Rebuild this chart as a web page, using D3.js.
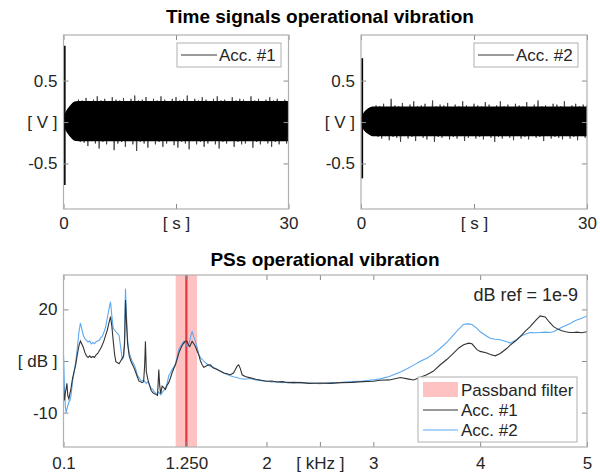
<!DOCTYPE html>
<html><head><meta charset="utf-8">
<script src="https://cdn.jsdelivr.net/npm/d3@7"></script>
<style>body{margin:0;background:#fff}svg{display:block}text{font-family:"Liberation Sans",Arial,Helvetica,sans-serif}</style>
</head><body><svg id="c" width="600" height="476"></svg>
<script>
// ---------- DATA ----------
const timeTicks = [0, 15, 30];
const timeTickLabels = ["0", "[ s ]", "30"];
const voltTicks = [-0.5, 0, 0.5];
const voltTickLabels = ["-0.5", "[ V ]", "0.5"];
// time-signal envelopes (peak tips) sampled every 0.5 s (0..30 s)
const envTime = d3.range(0, 30.01, 0.5);
const acc1Upper = [0.04,0.14,0.20,0.24,0.27,0.26,0.29,0.25,0.27,0.31,0.26,0.28,0.25,0.30,0.27,0.26,0.29,0.25,0.28,0.32,0.26,0.27,0.30,0.25,0.28,0.26,0.31,0.27,0.25,0.28,0.30,0.26,0.27,0.32,0.25,0.28,0.26,0.30,0.27,0.25,0.28,0.31,0.26,0.27,0.25,0.30,0.26,0.28,0.27,0.25,0.31,0.26,0.28,0.25,0.27,0.30,0.26,0.28,0.25,0.27,0.26];
const acc1Lower = [-0.03,-0.12,-0.18,-0.22,-0.24,-0.25,-0.29,-0.23,-0.26,-0.32,-0.24,-0.27,-0.23,-0.34,-0.26,-0.24,-0.30,-0.23,-0.27,-0.35,-0.24,-0.26,-0.31,-0.23,-0.27,-0.24,-0.30,-0.26,-0.23,-0.28,-0.31,-0.24,-0.26,-0.33,-0.23,-0.27,-0.24,-0.30,-0.26,-0.23,-0.27,-0.32,-0.24,-0.26,-0.23,-0.30,-0.24,-0.27,-0.26,-0.23,-0.31,-0.24,-0.27,-0.23,-0.26,-0.30,-0.24,-0.27,-0.23,-0.26,-0.24];
const acc1Core = [0.245, -0.225];
const acc2Upper = [0.04,0.12,0.16,0.18,0.20,0.19,0.22,0.18,0.28,0.20,0.19,0.23,0.18,0.21,0.25,0.19,0.20,0.22,0.18,0.26,0.19,0.21,0.20,0.23,0.18,0.21,0.19,0.25,0.20,0.18,0.22,0.20,0.19,0.24,0.21,0.18,0.20,0.25,0.19,0.21,0.18,0.22,0.20,0.19,0.24,0.18,0.21,0.26,0.19,0.20,0.18,0.22,0.21,0.19,0.25,0.18,0.20,0.22,0.19,0.21,0.20];
const acc2Lower = [-0.03,-0.10,-0.14,-0.17,-0.18,-0.20,-0.17,-0.22,-0.18,-0.19,-0.24,-0.17,-0.20,-0.18,-0.23,-0.17,-0.19,-0.21,-0.17,-0.24,-0.18,-0.19,-0.17,-0.21,-0.18,-0.20,-0.17,-0.23,-0.19,-0.17,-0.20,-0.18,-0.21,-0.17,-0.19,-0.24,-0.18,-0.20,-0.17,-0.19,-0.22,-0.17,-0.20,-0.18,-0.21,-0.17,-0.19,-0.18,-0.23,-0.17,-0.20,-0.18,-0.19,-0.21,-0.17,-0.20,-0.18,-0.22,-0.17,-0.19,-0.18];
const acc2Core = [0.18, -0.165];
// initial transient spike [t, max, min]
const acc1Spike = [0.15, 0.92, -0.76];
const acc2Spike = [0.15, 0.77, -0.68];

const freqTicks = [0.1, 1.25, 2, 2.5, 3, 4, 5];
const freqTickLabels = ["0.1", "1.250", "2", "[ kHz ]", "3", "4", "5"];
const dbTicks = [-10, 5, 20];
const dbTickLabels = ["-10", "[ dB ]", "20"];
const passband = [1.15, 1.35];
const passbandCenter = 1.25;
const freqKHz = [0.100,0.105,0.110,0.118,0.125,0.132,0.140,0.150,0.160,0.170,0.185,0.200,0.215,0.230,0.245,0.258,0.270,0.285,0.300,0.315,0.330,0.345,0.360,0.375,0.390,0.405,0.420,0.435,0.450,0.465,0.480,0.495,0.510,0.525,0.540,0.553,0.565,0.578,0.590,0.605,0.620,0.635,0.650,0.662,0.672,0.680,0.690,0.700,0.715,0.730,0.745,0.760,0.775,0.790,0.805,0.820,0.835,0.850,0.860,0.867,0.875,0.890,0.905,0.920,0.935,0.950,0.965,0.980,0.992,1.000,1.010,1.023,1.040,1.054,1.070,1.085,1.100,1.116,1.132,1.148,1.163,1.179,1.195,1.210,1.225,1.240,1.257,1.270,1.282,1.293,1.304,1.320,1.335,1.350,1.366,1.382,1.398,1.413,1.428,1.450,1.475,1.500,1.538,1.570,1.600,1.630,1.662,1.690,1.709,1.725,1.740,1.755,1.772,1.800,1.849,1.900,1.950,2.000,2.050,2.100,2.150,2.200,2.250,2.317,2.400,2.500,2.600,2.700,2.800,2.900,3.000,3.065,3.150,3.253,3.320,3.377,3.440,3.500,3.560,3.627,3.690,3.751,3.800,3.845,3.892,3.923,3.970,4.000,4.063,4.094,4.141,4.188,4.251,4.281,4.330,4.375,4.420,4.468,4.520,4.562,4.609,4.650,4.687,4.730,4.765,4.800,4.840,4.874,4.905,4.950,5.000];
const psdAcc1 = [-2.0,-5.0,-6.5,-4.0,-3.0,-1.5,-5.0,-6.0,-4.5,-3.0,0.0,2.0,4.0,7.0,9.5,10.8,10.0,9.0,7.5,6.5,6.0,6.5,6.0,6.3,6.0,6.8,7.2,8.0,8.8,9.8,11.0,12.5,14.0,16.0,17.9,15.0,11.0,7.0,4.8,4.5,4.2,5.0,5.8,6.5,10.0,22.7,16.0,10.0,6.5,5.0,4.0,3.0,1.8,0.5,-0.8,-1.0,-1.3,-1.0,4.0,10.7,2.0,-0.4,-2.0,-3.5,-4.2,-4.5,-4.7,-5.0,2.5,-2.0,-4.5,-2.3,-2.8,-3.3,-2.0,-1.3,0.0,1.5,2.8,3.9,5.5,7.3,8.5,9.5,10.2,10.8,10.7,9.5,9.2,10.0,10.7,10.0,9.2,8.0,6.8,5.0,3.9,3.2,3.4,3.8,3.9,3.0,2.5,2.0,1.5,1.3,1.0,1.5,2.5,3.5,3.9,2.8,1.0,0.5,0.1,-0.3,-0.6,-0.9,-0.8,-1.1,-1.0,-1.3,-1.2,-1.3,-1.5,-1.4,-1.5,-1.3,-1.2,-1.0,-0.9,-0.6,-0.5,0.2,-0.2,-0.5,0.3,1.0,2.0,3.9,5.5,7.3,8.8,9.7,10.2,10.0,8.3,7.8,7.3,6.9,6.5,7.2,8.7,9.6,10.8,12.1,13.6,15.0,16.8,18.1,17.8,16.2,15.0,14.2,13.8,13.5,13.3,13.3,13.4,13.2,13.5];
const psdAcc2 = [7.0,2.0,-4.0,-8.5,-10.0,-9.0,-8.0,-7.0,-6.5,-5.0,-1.0,2.0,5.0,9.0,13.5,16.0,14.5,12.5,11.5,11.0,10.5,10.8,10.0,10.4,10.0,10.6,10.8,11.0,11.8,12.3,13.5,15.0,17.5,20.0,22.2,18.0,14.5,14.0,13.5,13.0,12.5,9.0,5.5,6.0,12.0,26.0,18.0,11.0,7.3,6.0,4.8,4.0,2.8,1.0,0.3,-0.5,-0.8,-0.6,-1.0,-1.2,-1.5,-1.0,-2.0,-3.0,-3.2,-4.0,-4.5,-4.5,-4.0,-4.4,-4.8,-4.2,-3.5,-3.0,-1.5,0.7,1.5,2.5,3.2,4.2,6.0,8.3,9.3,10.0,10.7,10.0,9.2,9.5,11.0,12.5,13.5,12.0,10.7,9.0,7.0,6.0,5.5,5.0,4.5,4.0,3.4,3.2,2.6,2.0,1.5,1.1,0.7,0.4,0.3,0.2,0.0,-0.1,-0.2,-0.3,-0.1,-0.5,-0.7,-0.9,-1.1,-1.0,-1.3,-1.1,-1.4,-1.2,-1.4,-1.6,-1.3,-1.2,-1.0,-0.8,-0.5,-0.2,0.5,1.8,2.8,3.8,4.9,5.8,7.0,8.7,10.5,12.6,14.3,15.7,15.8,15.6,14.5,13.5,12.2,11.6,11.3,11.2,10.6,10.2,11.0,12.1,12.8,13.3,13.2,13.3,13.4,13.3,13.5,14.2,14.8,15.3,15.8,16.5,16.9,17.4,18.1];

// ---------- DRAWING ----------
const svg = d3.select("#c");
const FONT = 17, TXT = "#262626", BOX = "#b0b0b0", TICK = "#8a8a8a";
const C1 = "#333333", C2 = "#5aa9f2";

function frame(g, x, y, xt, xl, yt, yl, padX) {
  const [x0, x1] = x.range(), [y0, y1] = y.range();
  const ax = (gen, tx, ty, ticks, labels) => {
    const a = g.append("g").attr("transform", `translate(${tx},${ty})`)
      .call(gen.tickValues(ticks).tickSize(-5).tickPadding(labels ? padX : 0)
        .tickFormat(labels ? (d, i) => labels[i] : () => ""));
    a.select(".domain").remove();
    a.selectAll("line").attr("stroke", TICK);
    a.selectAll("text").attr("fill", TXT).style("font-size", FONT + "px")
      .style("font-family", '"Liberation Sans",Arial,sans-serif');
    return a;
  };
  ax(d3.axisBottom(x), 0, y0, xt, xl);
  ax(d3.axisTop(x), 0, y1, xt, null);
  ax(d3.axisLeft(y), x0, 0, yt, yl).selectAll("text").attr("x", -6);
  ax(d3.axisRight(y), x1, 0, yt, null);
}
function box(g, x, y) {
  const [x0, x1] = x.range(), [y0, y1] = y.range();
  g.append("rect").attr("x", x0).attr("y", y1).attr("width", x1 - x0).attr("height", y0 - y1)
    .attr("fill", "none").attr("stroke", BOX).attr("stroke-width", 1.2);
}

function timePlot(xr, up, lo, core, spike, name, legX) {
  const x = d3.scaleLinear([0, 30], xr);
  const y = d3.scaleLinear([-1.05, 1.05], [209, 35]);
  const g = svg.append("g");
  const id = "clip" + name.replace(/\W/g, "");
  g.append("clipPath").attr("id", id).append("rect")
    .attr("x", xr[0]).attr("y", 35).attr("width", xr[1] - xr[0]).attr("height", 174);
  const pg = g.append("g").attr("clip-path", `url(#${id})`);
  // zig-zag trace between the peak tips
  const pts = [];
  envTime.forEach((t, i) => { pts.push([t, up[i]]); pts.push([t + 0.25, lo[i]]); });
  pg.append("path").attr("d", d3.line().x(d => x(d[0])).y(d => y(d[1]))(pts))
    .attr("fill", "none").attr("stroke", "#333").attr("stroke-width", 0.8);
  // solid core
  const area = d3.area().curve(d3.curveMonotoneX).x((d, i) => x(envTime[i]))
    .y0((d, i) => y(Math.max(lo[i], core[1]))).y1((d, i) => y(Math.min(up[i], core[0])));
  pg.append("path").datum(up).attr("d", area).attr("fill", "#000").attr("stroke", "#000").attr("stroke-width", 1.2);
  pg.append("line").attr("x1", x(spike[0])).attr("x2", x(spike[0])).attr("y1", y(spike[1])).attr("y2", y(spike[2]))
    .attr("stroke", "#000").attr("stroke-width", 2);
  frame(g, x, y, timeTicks, timeTickLabels, voltTicks, voltTickLabels, 8);
  box(g, x, y);
  // legend
  const lg = g.append("g").attr("transform", `translate(${legX},43)`);
  lg.append("rect").attr("width", 104).attr("height", 24).attr("fill", "#fff").attr("stroke", BOX);
  lg.append("line").attr("x1", 4).attr("x2", 40).attr("y1", 12).attr("y2", 12).attr("stroke", "#000").attr("stroke-width", 0.8);
  lg.append("text").attr("x", 42).attr("y", 18).attr("font-size", FONT).attr("fill", TXT).text(name);
}
timePlot([63.5, 288.5], acc1Upper, acc1Lower, acc1Core, acc1Spike, "Acc. #1", 177);
timePlot([361, 587], acc2Upper, acc2Lower, acc2Core, acc2Spike, "Acc. #2", 474);
svg.append("text").attr("x", 320).attr("y", 23).attr("text-anchor", "middle")
  .attr("font-size", 19).attr("font-weight", "bold").attr("fill", "#000").text("Time signals operational vibration");

// PSD plot
const xF = d3.scaleLinear([0.1, 5], [63.5, 587]);
const yF = d3.scaleLinear([-20, 30], [447, 275]);
const gB = svg.append("g");
gB.append("clipPath").attr("id", "clipF").append("rect").attr("x", 63.5).attr("y", 275).attr("width", 523.5).attr("height", 172);
const pB = gB.append("g").attr("clip-path", "url(#clipF)");
pB.append("rect").attr("x", xF(passband[0])).attr("y", 275).attr("width", xF(passband[1]) - xF(passband[0])).attr("height", 172)
  .attr("fill", "#ffc2c2");
pB.append("line").attr("x1", xF(passbandCenter)).attr("x2", xF(passbandCenter)).attr("y1", 275).attr("y2", 447)
  .attr("stroke", "#e8343a").attr("stroke-width", 2.2);
const lineF = vals => d3.line().x((d, i) => xF(freqKHz[i])).y(d => yF(d))(vals);
pB.append("path").attr("d", lineF(psdAcc2)).attr("fill", "none").attr("stroke", C2).attr("stroke-width", 1.1);
pB.append("path").attr("d", lineF(psdAcc1)).attr("fill", "none").attr("stroke", C1).attr("stroke-width", 1.1);
frame(gB, xF, yF, freqTicks, freqTickLabels, dbTicks, dbTickLabels, 10);
box(gB, xF, yF);
gB.append("text").attr("x", 578).attr("y", 301).attr("text-anchor", "end").attr("font-size", 18).attr("fill", TXT).text("dB ref = 1e-9");
const lgB = gB.append("g").attr("transform", "translate(418,377)");
lgB.append("rect").attr("width", 159).attr("height", 65).attr("fill", "#fff").attr("stroke", BOX);
lgB.append("rect").attr("x", 5).attr("y", 5).attr("width", 35).attr("height", 15).attr("fill", "#ffc2c2");
lgB.append("line").attr("x1", 5).attr("x2", 40).attr("y1", 33).attr("y2", 33).attr("stroke", C1).attr("stroke-width", 1);
lgB.append("line").attr("x1", 5).attr("x2", 40).attr("y1", 53).attr("y2", 53).attr("stroke", C2).attr("stroke-width", 1);
[["Passband filter", 19], ["Acc. #1", 39], ["Acc. #2", 59]].forEach(([t, yy]) =>
  lgB.append("text").attr("x", 43).attr("y", yy).attr("font-size", FONT).attr("fill", TXT).text(t));
svg.append("text").attr("x", 325).attr("y", 266).attr("text-anchor", "middle")
  .attr("font-size", 19).attr("font-weight", "bold").attr("fill", "#000").text("PSs operational vibration");
</script></body></html>
